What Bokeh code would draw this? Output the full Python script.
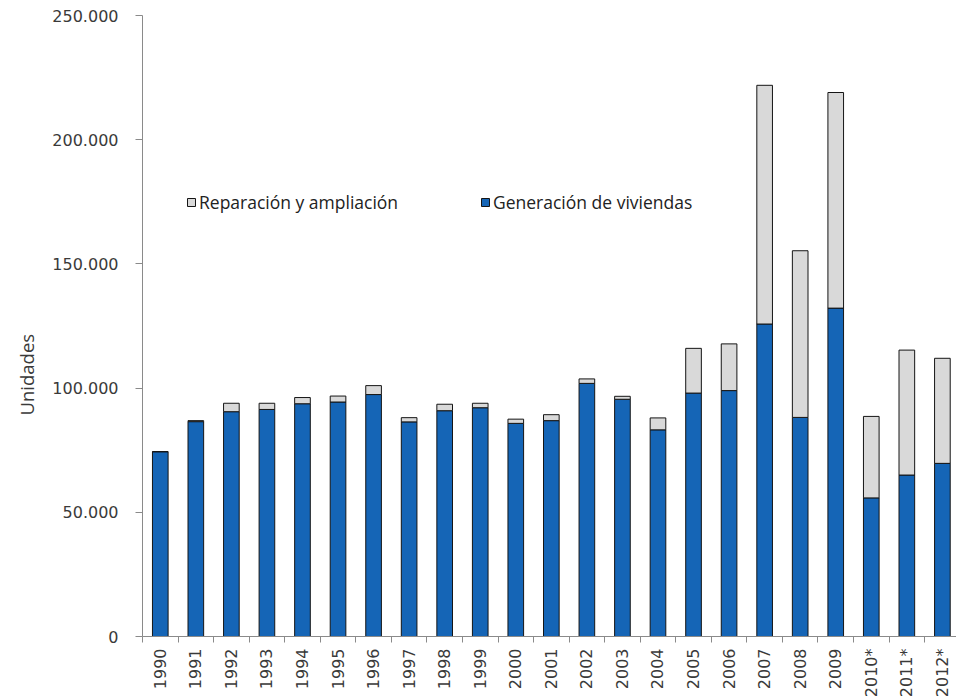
from math import pi
from bokeh.plotting import figure
from bokeh.models import (Range1d, FixedTicker, Legend, LegendItem, Title,
                          ColumnDataSource)
from bokeh.embed import file_html
from bokeh.resources import INLINE

years = ["1990", "1991", "1992", "1993", "1994", "1995", "1996", "1997",
         "1998", "1999", "2000", "2001", "2002", "2003", "2004", "2005",
         "2006", "2007", "2008", "2009", "2010*", "2011*", "2012*"]

# Generación de viviendas (blue, bottom)
generacion = [74400, 86500, 90500, 91400, 93700, 94400, 97400, 86400,
              90900, 92100, 85800, 86900, 101900, 95500, 83200, 98000,
              99000, 125800, 88200, 132200, 55800, 65000, 69700]

# Reparación y ampliación (gray, stacked on top)
reparacion = [0, 400, 3400, 2500, 2500, 2400, 3600, 1700,
              2600, 1800, 1700, 2400, 1800, 1200, 4800, 18000,
              18800, 96100, 67100, 86800, 32800, 50300, 42300]

y_ticks = [0, 50000, 100000, 150000, 200000, 250000]
y_tick_labels = ["0", "50.000", "100.000", "150.000", "200.000", "250.000"]

BLUE = "#1565B6"
GRAY = "#D9D9D9"
AXIS = "#8a8a8a"
TXT = "#3a3a3a"

n = len(years)
idx = list(range(n))
total = [g + r for g, r in zip(generacion, reparacion)]
src = ColumnDataSource(dict(x=idx, gen=generacion, total=total))

p = figure(width=956, height=700, output_backend="svg", toolbar_location=None,
           x_range=Range1d(-0.5, 22.397), y_range=Range1d(0, 250000),
           min_border_left=142, min_border_right=0, min_border_top=15,
           min_border_bottom=64)
p.outline_line_color = None
p.xgrid.grid_line_color = None
p.ygrid.grid_line_color = None
p.background_fill_color = "white"
p.border_fill_color = "white"

r_gen = p.vbar(x="x", bottom=0, top="gen", width=0.44, source=src,
               fill_color=BLUE, line_color="#151515", line_width=1)
r_rep = p.vbar(x="x", bottom="gen", top="total", width=0.44, source=src,
               fill_color=GRAY, line_color="#151515", line_width=1)

# y axis
p.yaxis.ticker = FixedTicker(ticks=y_ticks)
p.yaxis.major_label_overrides = dict(zip(y_ticks, y_tick_labels))
p.yaxis.axis_line_color = AXIS
p.yaxis.major_tick_line_color = AXIS
p.yaxis.major_tick_out = 7
p.yaxis.major_tick_in = 0
p.yaxis.minor_tick_line_color = None
p.yaxis.major_label_standoff = 17
p.yaxis.major_label_text_font = "DejaVu Sans"
p.yaxis.major_label_text_font_size = "16px"
p.yaxis.major_label_text_color = TXT

# x axis: labels at centres, tick marks at category boundaries
p.xaxis.ticker = FixedTicker(ticks=idx, minor_ticks=[i - 0.5 for i in range(n + 1)])
p.xaxis.major_label_overrides = dict(zip(idx, years))
p.xaxis.axis_line_color = AXIS
p.xaxis.major_tick_line_color = None
p.xaxis.major_tick_out = 6
p.xaxis.major_tick_in = 0
p.xaxis.minor_tick_line_color = AXIS
p.xaxis.minor_tick_out = 6
p.xaxis.minor_tick_in = 0
p.xaxis.major_label_standoff = 6
p.xaxis.major_label_orientation = pi / 2
p.xaxis.major_label_text_font = "DejaVu Sans"
p.xaxis.major_label_text_font_size = "16px"
p.xaxis.major_label_text_color = TXT

# y axis title, placed as a side title on the left
p.add_layout(Title(text="Unidades", align="left", offset=221, standoff=21,
                   text_font="Open Sans", text_font_size="18.5px",
                   text_font_style="normal", text_color=TXT), "left")

def make_legend(label, rend, loc):
    lg = Legend(items=[LegendItem(label=label, renderers=[rend])],
                location=loc, padding=0, margin=0, border_line_color=None,
                background_fill_alpha=0, glyph_width=10, glyph_height=10,
                label_height=10, label_standoff=3,
                label_text_font="Open Sans", label_text_font_size="17.5px",
                label_text_color="#222222")
    return lg

p.add_layout(make_legend("Reparación y ampliación", r_rep, (44, 422)))
p.add_layout(make_legend("Generación de viviendas", r_gen, (338, 422)))

open("out.html", "w").write(file_html(p, INLINE))
